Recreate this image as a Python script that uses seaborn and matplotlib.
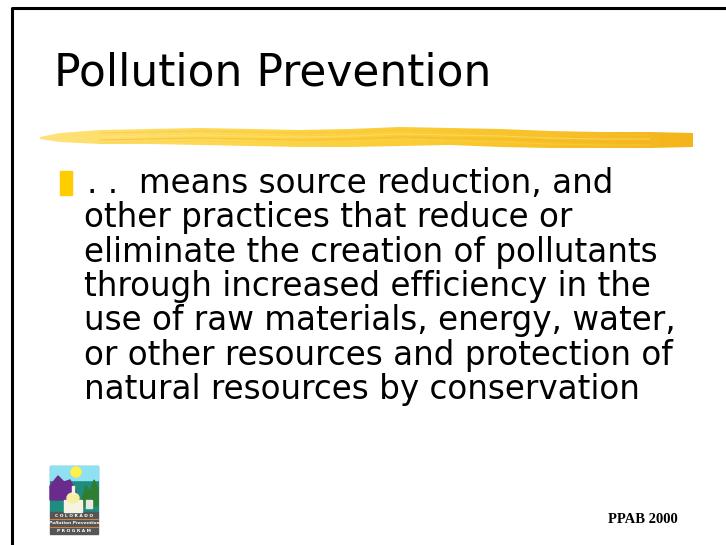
import numpy as np
import matplotlib.pyplot as plt
import matplotlib.patches as mpatches
from matplotlib.colors import LinearSegmentedColormap
import seaborn as sns

# Texto de la diapositiva
titulo = "Pollution Prevention"
lineas = [
    ". .  means source reduction, and",
    "other practices that reduce or",
    "eliminate the creation of pollutants",
    "through increased efficiency in the",
    "use of raw materials, energy, water,",
    "or other resources and protection of",
    "natural resources by conservation",
]
pie = "PPAB 2000"
logo_textos = ["C O L O R A D O", "Pollution Prevention", "P R O G R A M"]

# Trazo amarillo (borde superior / inferior)
trazo_x = [40, 60, 100, 150, 200, 250, 300, 350, 400, 450, 500, 550, 600, 650, 693]
trazo_sup = [137, 133, 130, 129, 128, 129, 130, 129, 127, 128, 129, 131, 132, 132, 133]
trazo_inf = [139, 142, 144, 144, 145, 146, 147, 147, 146, 145, 147, 148, 148, 148, 147]

sns.set_theme(style="white")
plt.rcParams['font.family'] = ['DejaVu Sans']

fig = plt.figure(figsize=(7.26, 5.45), dpi=100)
ax = fig.add_axes([0, 0, 1, 1])
ax.set_xlim(0, 726)
ax.set_ylim(545, 0)
ax.axis('off')

# Marco de la diapositiva
ax.plot([12, 12, 726], [545, 8, 8], color='black', lw=2.2, solid_capstyle='butt')

# Título
ax.text(54, 85, titulo, fontsize=31.7, color='black', va='baseline', ha='left')

# Trazo con degradado
poly = np.column_stack([trazo_x + trazo_x[::-1], trazo_sup + trazo_inf[::-1]])
parche = mpatches.Polygon(poly, closed=True, facecolor='none', edgecolor='none')
ax.add_patch(parche)
cmap = LinearSegmentedColormap.from_list('brocha', ['#FFE27A', '#FDD64A', '#F9C82E', '#F4B41C'])
grad = np.linspace(0, 1, 256).reshape(1, -1)
img = ax.imshow(grad, cmap=cmap, extent=[40, 693, 150, 125], aspect='auto', zorder=2)
img.set_clip_path(parche)
for dy, c in [(-3, '#F7C23A'), (1, '#FFE48A'), (4, '#F2B21E'), (7, '#FBD24A')]:
    ax.plot(trazo_x[2:-1], np.array(trazo_sup[2:-1]) + 6 + dy, color=c, lw=0.8, alpha=0.5, zorder=3)

# Viñeta
ax.add_patch(mpatches.Rectangle((60, 171), 12, 24, color='#FFCC00', zorder=3))

# Cuerpo
for i, linea in enumerate(lineas):
    x0 = 87 if i == 0 else 84
    ax.text(x0, 193 + i * 34.3, linea, fontsize=23.5, color='black', va='baseline', ha='left')

# Pie
ax.text(608, 523, pie, fontsize=10.5, fontweight='bold', family='Liberation Serif',
        va='baseline', ha='left', color='black')

# Logo (aproximado)
lx, ly, lw_, lh = 50, 466, 48, 68
ax.add_patch(mpatches.Rectangle((lx, ly), lw_, 46, color='#1E8C7E', zorder=3))
ax.add_patch(mpatches.Rectangle((lx, ly), lw_, 14, color='#8FE0F0', zorder=3))
ax.add_patch(mpatches.Circle((lx + 26, ly + 6), 5, color='#FFF04A', zorder=4))
ax.add_patch(mpatches.Polygon([[lx, ly + 34], [lx, ly + 20], [lx + 8, ly + 10], [lx + 14, ly + 16],
                               [lx + 20, ly + 14], [lx + 26, ly + 26], [lx + 22, ly + 34]],
                              color='#6A2C8C', zorder=4))
ax.add_patch(mpatches.Polygon([[lx + 30, ly + 40], [lx + 36, ly + 20], [lx + 40, ly + 26], [lx + 44, ly + 14],
                               [lx + 48, ly + 22], [lx + 48, ly + 40]], color='#2E7D32', zorder=4))
ax.add_patch(mpatches.Rectangle((lx + 14, ly + 34), 18, 12, color='#F4F4E0', zorder=5))
ax.add_patch(mpatches.Ellipse((lx + 23, ly + 32), 12, 10, color='#F8F0A0', zorder=5))
ax.add_patch(mpatches.Rectangle((lx + 22, ly + 20), 2, 8, color='#F4F4E0', zorder=5))
ax.add_patch(mpatches.Rectangle((lx + 36, ly + 34), 6, 8, color='#E8E8E8', zorder=5))
ax.add_patch(mpatches.Rectangle((lx, ly + 46), lw_, 22, color='#555555', zorder=3))
ax.plot([lx, lx + lw_], [ly + 52.5, ly + 52.5], color='#D08040', lw=0.8, zorder=4)
ax.plot([lx, lx + lw_], [ly + 60.5, ly + 60.5], color='#D08040', lw=0.8, zorder=4)
for t, yy, st in zip(logo_textos, [ly + 50, ly + 57, ly + 65], ['normal', 'italic', 'normal']):
    ax.text(lx + lw_ / 2, yy, t, fontsize=3.2, color='white', ha='center', va='center',
            fontweight='bold', style=st, zorder=5)

plt.savefig("out.png", dpi=100)
plt.close()
